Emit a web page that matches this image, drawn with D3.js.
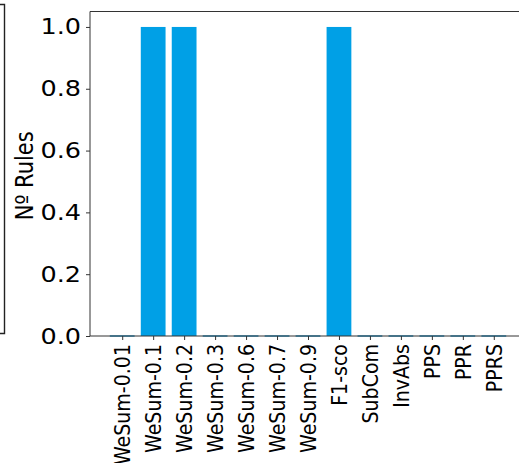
<!DOCTYPE html>
<html>
<head>
<meta charset="utf-8">
<script src="https://cdn.jsdelivr.net/npm/d3@7"></script>
<style>
  html, body { margin: 0; padding: 0; background: #fff; overflow: hidden; }
  svg { display: block; }
  text { font-family: "DejaVu Sans", sans-serif; fill: #000; }
</style>
</head>
<body>
<svg id="chart" width="519" height="463"></svg>
<script>
// Rule counts per method
const categories = ["WeSum-0.01", "WeSum-0.1", "WeSum-0.2", "WeSum-0.3", "WeSum-0.6",
                    "WeSum-0.7", "WeSum-0.9", "F1-sco", "SubCom", "InvAbs", "PPS", "PPR", "PPRS"];
const ruleCounts = [0, 1, 1, 0, 0, 0, 0, 1, 0, 0, 0, 0, 0];
const yTicks = [0.0, 0.2, 0.4, 0.6, 0.8, 1.0];
const yLabel = "Nº Rules";

(function draw() {
  const svg = d3.select("#chart");

  // Plot area (the right part of the axes runs past the visible window)
  const plotLeft = 90, plotRight = 526, plotTop = 11.5, plotBottom = 336;
  // The figure is stretched a little horizontally, text included
  const stretch = 1.16;

  // Numeric band positions with matplotlib-style 5% margins
  const n = categories.length;
  const barW = 0.8;
  const lo = -barW / 2, hi = n - 1 + barW / 2;
  const pad = (hi - lo) * 0.05;
  const x = d3.scaleLinear().domain([lo - pad, hi + pad]).range([plotLeft, plotRight]);
  const y = d3.scaleLinear().domain([0, 1.05]).range([plotBottom, plotTop]);

  // Fragment of the neighbouring panel frame at the far left
  svg.append("path")
    .attr("d", "M0,4.5 H4.5 V333.5 H0")
    .attr("fill", "none").attr("stroke", "#222").attr("stroke-width", 1.4);

  // Bars
  svg.append("g").selectAll("rect")
    .data(ruleCounts)
    .join("rect")
    .attr("x", (d, i) => x(i - barW / 2))
    .attr("width", (d, i) => x(i + barW / 2) - x(i - barW / 2))
    .attr("y", d => y(d))
    .attr("height", d => y(0) - y(d))
    .attr("fill", "#00a0e6");

  // Spines
  const spines = svg.append("g").attr("fill", "none").attr("stroke", "#333").attr("stroke-width", 1);
  spines.append("line").attr("x1", plotLeft).attr("x2", plotRight).attr("y1", plotTop).attr("y2", plotTop);
  spines.append("line").attr("x1", plotLeft).attr("x2", plotRight).attr("y1", plotBottom).attr("y2", plotBottom);
  spines.append("line").attr("x1", plotLeft).attr("x2", plotLeft).attr("y1", plotTop).attr("y2", plotBottom);
  spines.append("line").attr("x1", plotRight).attr("x2", plotRight).attr("y1", plotTop).attr("y2", plotBottom);

  // Zero-height bars leave a thin dark edge on the baseline
  svg.append("g").selectAll("line")
    .data(ruleCounts.map((v, i) => ({ v, i })).filter(d => d.v === 0))
    .join("line")
    .attr("x1", d => x(d.i - barW / 2)).attr("x2", d => x(d.i + barW / 2))
    .attr("y1", plotBottom).attr("y2", plotBottom)
    .attr("stroke", "#105a7e").attr("stroke-width", 1.2);

  // Y axis
  const yAxis = svg.append("g")
    .attr("transform", `translate(${plotLeft},0)`)
    .call(d3.axisLeft(y).tickValues(yTicks).tickFormat(d3.format(".1f")).tickSize(4));
  yAxis.select(".domain").remove();
  yAxis.selectAll(".tick line").attr("stroke", "#333");
  yAxis.selectAll(".tick text")
    .attr("font-size", 22)
    .attr("font-family", "DejaVu Sans, sans-serif")
    .attr("fill", "#000")
    .attr("x", 0)
    .attr("text-anchor", "end")
    .attr("transform", `translate(-9,0) scale(${stretch},1)`);

  // X axis with vertical labels
  const xAxis = svg.append("g")
    .attr("transform", `translate(0,${plotBottom})`)
    .call(d3.axisBottom(x).tickValues(d3.range(n)).tickFormat(i => categories[i]).tickSize(4));
  xAxis.select(".domain").remove();
  xAxis.selectAll(".tick line").attr("stroke", "#333");
  xAxis.selectAll(".tick text")
    .attr("font-size", 19)
    .attr("font-family", "DejaVu Sans, sans-serif")
    .attr("fill", "#000")
    .attr("text-anchor", "end")
    .attr("transform", `translate(0,8) scale(${stretch},1) rotate(-90)`)
    .attr("x", 0).attr("y", 0)
    .attr("dy", "0.35em");

  // Y axis title
  svg.append("text")
    .attr("transform", `translate(33,${(plotTop + plotBottom) / 2 + 2}) scale(${stretch},1) rotate(-90)`)
    .attr("text-anchor", "middle")
    .attr("font-size", 21)
    .text(yLabel);
})();
</script>
</body>
</html>
